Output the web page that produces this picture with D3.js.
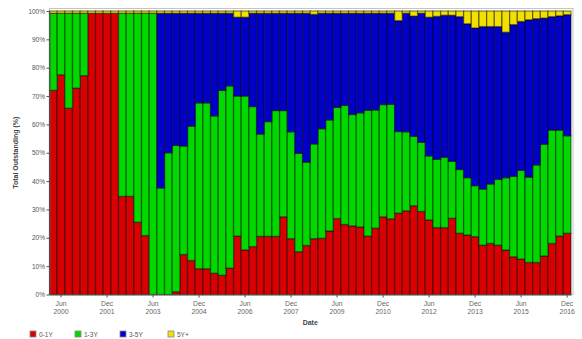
<!DOCTYPE html>
<html>
<head>
<meta charset="utf-8">
<script src="https://cdn.jsdelivr.net/npm/d3@7"></script>
<style>
  html, body { margin: 0; padding: 0; background: #fff; }
  svg { display: block; font-family: "Liberation Sans", Arial, sans-serif; }
</style>
</head>
<body>
<svg id="chart" width="582" height="339"></svg>
<script>
// Quarter-end dates, 2000 Q1 to 2016 Q4
const quarters = [
  "2000-03","2000-06","2000-09","2000-12","2001-03","2001-06","2001-09","2001-12",
  "2002-03","2002-06","2002-09","2002-12","2003-03","2003-06","2003-09","2003-12",
  "2004-03","2004-06","2004-09","2004-12","2005-03","2005-06","2005-09","2005-12",
  "2006-03","2006-06","2006-09","2006-12","2007-03","2007-06","2007-09","2007-12",
  "2008-03","2008-06","2008-09","2008-12","2009-03","2009-06","2009-09","2009-12",
  "2010-03","2010-06","2010-09","2010-12","2011-03","2011-06","2011-09","2011-12",
  "2012-03","2012-06","2012-09","2012-12","2013-03","2013-06","2013-09","2013-12",
  "2014-03","2014-06","2014-09","2014-12","2015-03","2015-06","2015-09","2015-12",
  "2016-03","2016-06","2016-09","2016-12"
];

// Share of total outstanding (%) per segment
const seriesRed = [
  72.0, 77.5, 65.7, 72.8, 77.2, 99.2, 99.2, 99.2, 99.2, 34.6, 34.6, 25.5, 20.8, 0.0,
  0.0, 0.0, 1.0, 14.1, 12.0, 9.1, 9.1, 7.5, 6.8, 9.3, 20.6, 15.7, 16.9, 20.5,
  20.5, 20.5, 27.4, 19.7, 15.1, 17.3, 19.7, 19.8, 22.4, 26.8, 24.7, 24.2, 23.8, 20.6,
  23.4, 27.4, 26.7, 28.7, 29.5, 31.3, 29.3, 26.3, 23.6, 23.6, 26.9, 21.6, 21.0, 20.4,
  17.4, 18.0, 17.4, 15.7, 13.3, 12.5, 11.3, 11.3, 13.6, 18.0, 20.6, 21.6
];
const seriesGreen = [
  27.2, 21.7, 33.5, 26.4, 22.0, 0.0, 0.0, 0.0, 0.0, 64.6, 64.6, 73.7, 78.4, 99.2,
  37.6, 50.0, 51.6, 38.3, 47.4, 58.5, 58.5, 55.5, 65.2, 64.3, 49.4, 54.3, 49.4, 36.1,
  40.5, 44.4, 37.5, 37.7, 34.7, 29.4, 33.4, 38.7, 39.2, 39.2, 42.0, 39.3, 40.3, 44.4,
  41.7, 39.6, 40.4, 28.8, 27.9, 24.5, 24.4, 22.6, 24.1, 24.8, 20.1, 22.5, 20.2, 18.0,
  19.8, 21.0, 23.2, 25.5, 28.4, 31.3, 30.1, 34.4, 39.4, 40.0, 37.4, 34.4
];
const seriesBlue = [
  0, 0, 0, 0, 0, 0, 0, 0, 0, 0, 0, 0, 0, 0,
  61.6, 49.2, 46.6, 46.8, 39.8, 31.6, 31.6, 36.2, 27.2, 25.6, 27.8, 27.8, 32.9, 42.6,
  38.2, 34.3, 34.3, 41.8, 49.4, 52.5, 45.7, 40.7, 37.6, 33.2, 32.5, 35.7, 35.1, 34.2,
  34.1, 32.2, 32.1, 39.1, 41.8, 42.4, 45.5, 48.9, 50.4, 50.1, 51.5, 53.9, 54.3, 55.6,
  57.3, 55.5, 53.9, 51.3, 53.5, 52.5, 55.5, 51.6, 44.5, 40.0, 40.3, 42.7
];
const seriesYellow = [
  0.8, 0.8, 0.8, 0.8, 0.8, 0.8, 0.8, 0.8, 0.8, 0.8, 0.8, 0.8, 0.8, 0.8,
  0.8, 0.8, 0.8, 0.8, 0.8, 0.8, 0.8, 0.8, 0.8, 0.8, 2.2, 2.2, 0.8, 0.8,
  0.8, 0.8, 0.8, 0.8, 0.8, 0.8, 1.2, 0.8, 0.8, 0.8, 0.8, 0.8, 0.8, 0.8,
  0.8, 0.8, 0.8, 3.4, 0.8, 1.8, 0.8, 2.2, 1.9, 1.5, 1.5, 2.0, 4.5, 6.0,
  5.5, 5.5, 5.5, 7.5, 4.8, 3.7, 3.1, 2.7, 2.5, 2.0, 1.7, 1.3
];

const seriesNames = ["0-1Y", "1-3Y", "3-5Y", "5Y+"];
const seriesColors = ["#d80000", "#00d800", "#0000c8", "#f2e000"];

const yTicks = [0, 10, 20, 30, 40, 50, 60, 70, 80, 90, 100];
const xTickQuarters = ["2000-06","2001-12","2003-06","2004-12","2006-06","2007-12",
                       "2009-06","2010-12","2012-06","2013-12","2015-06","2016-12"];
const xTickLabels = [["Jun","2000"],["Dec","2001"],["Jun","2003"],["Dec","2004"],
                     ["Jun","2006"],["Dec","2007"],["Jun","2009"],["Dec","2010"],
                     ["Jun","2012"],["Dec","2013"],["Jun","2015"],["Dec","2016"]];

const svg = d3.select("#chart");
const plot = { left: 49.5, right: 571, top: 11, bottom: 294.5 };

const x = d3.scaleBand().domain(quarters).range([plot.left, plot.right]).padding(0);
const y = d3.scaleLinear().domain([0, 100]).range([plot.bottom, plot.top]);

const keys = ["red", "green", "blue", "yellow"];
const rows = quarters.map((q, i) => ({
  q, red: seriesRed[i], green: seriesGreen[i], blue: seriesBlue[i], yellow: seriesYellow[i]
}));
const stacked = d3.stack().keys(keys)(rows);

// light frame around the plotting region
svg.append("rect")
  .attr("x", plot.left).attr("y", 8.5)
  .attr("width", 573 - plot.left).attr("height", plot.bottom - 8.5)
  .attr("fill", "none").attr("stroke", "#c4c4c4").attr("stroke-width", 1);

// stacked bars
svg.append("g").selectAll("g")
  .data(stacked)
  .join("g")
  .attr("fill", (d, i) => seriesColors[i])
  .selectAll("rect")
  .data(d => d.filter(s => s[1] - s[0] > 0))
  .join("rect")
  .attr("x", d => x(d.data.q))
  .attr("width", x.bandwidth())
  .attr("y", d => y(d[1]))
  .attr("height", d => y(d[0]) - y(d[1]))
  .attr("stroke", "#000")
  .attr("stroke-opacity", 0.45)
  .attr("stroke-width", 1.3);

// y axis
const yAxis = svg.append("g")
  .attr("transform", `translate(${plot.left},0)`)
  .call(d3.axisLeft(y).tickValues(yTicks).tickFormat(d => d + "%").tickSize(3).tickSizeOuter(0));
yAxis.select(".domain").attr("stroke", "#555");
yAxis.selectAll(".tick line").attr("stroke", "#555");
yAxis.selectAll(".tick text").attr("fill", "#555").attr("font-size", 6.5).attr("x", -4.5);

// x axis
const xAxis = svg.append("g")
  .attr("transform", `translate(0,${plot.bottom})`)
  .call(d3.axisBottom(x).tickValues(xTickQuarters).tickFormat("").tickSize(3).tickSizeOuter(0));
xAxis.select(".domain").attr("stroke", "#555");
xAxis.selectAll(".tick line").attr("stroke", "#555");
xAxis.selectAll(".tick").each(function(d) {
  const lab = xTickLabels[xTickQuarters.indexOf(d)];
  const t = d3.select(this).append("text")
    .attr("fill", "#666").attr("font-size", 6.8).attr("text-anchor", "middle");
  t.append("tspan").attr("x", 0).attr("y", 11).text(lab[0]);
  t.append("tspan").attr("x", 0).attr("y", 19.5).text(lab[1]);
});

// axis titles
svg.append("text")
  .attr("transform", `translate(18,${(plot.top + plot.bottom) / 2}) rotate(-90)`)
  .attr("text-anchor", "middle")
  .attr("font-size", 7).attr("font-weight", "bold").attr("fill", "#444")
  .text("Total Outstanding (%)");
svg.append("text")
  .attr("x", (plot.left + plot.right) / 2).attr("y", 325)
  .attr("text-anchor", "middle")
  .attr("font-size", 7).attr("font-weight", "bold").attr("fill", "#444")
  .text("Date");

// legend along the bottom edge
const legendX = d3.scaleOrdinal().domain(seriesNames).range([30, 75, 120, 168]);
const legend = svg.append("g").selectAll("g")
  .data(seriesNames)
  .join("g")
  .attr("transform", d => `translate(${legendX(d)},331)`);
legend.append("rect")
  .attr("width", 6).attr("height", 6)
  .attr("fill", (d, i) => seriesColors[i])
  .attr("stroke", "#888").attr("stroke-width", 0.8);
legend.append("text")
  .attr("x", 9).attr("y", 5.8)
  .attr("font-size", 6.5).attr("fill", "#555")
  .text(d => d);
</script>
</body>
</html>
